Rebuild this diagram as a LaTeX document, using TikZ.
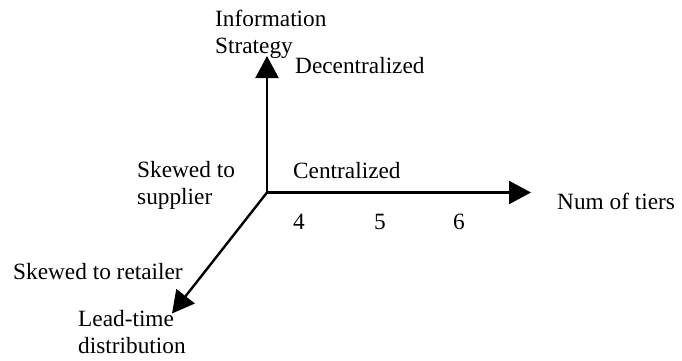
\documentclass[tikz,border=0pt]{standalone}
\usepackage{fontspec}
\setmainfont{Liberation Serif}
\usetikzlibrary{arrows.meta}
\begin{document}
\begin{tikzpicture}[x=1pt,y=-1pt,
  lbl/.style={anchor=base west,inner sep=0pt,font=\fontsize{23.3}{27}\selectfont,align=left},
  axis/.style={line width=2.4pt,-{Triangle[length=22pt,width=23pt]}}]
\useasboundingbox (0,0) rectangle (682,360);
\coordinate (O) at (267,192.5);
\coordinate (up) at (267,56);
\coordinate (right) at (531,192.5);
\coordinate (dl) at (172,313.5);
\draw[axis] (O) -- (up);
\draw[axis] (O) -- (right);
\draw[axis] (O) -- (dl);
\node[lbl] (info) at (215,53) {Information\\Strategy};
\node[lbl] (dec) at (295,73) {Decentralized};
\node[lbl] (cen) at (293,178) {Centralized};
\node[lbl] (sup) at (137,204) {Skewed to\\supplier};
\node[lbl] (ret) at (13,279) {Skewed to retailer};
\node[lbl] (lead) at (78,353) {Lead-time\\distribution};
\node[lbl] (tiers) at (557,209) {Num of tiers};
\node[lbl] (t4) at (293,229) {4};
\node[lbl] (t5) at (374,229) {5};
\node[lbl] (t6) at (453,229) {6};
\end{tikzpicture}
\end{document}
